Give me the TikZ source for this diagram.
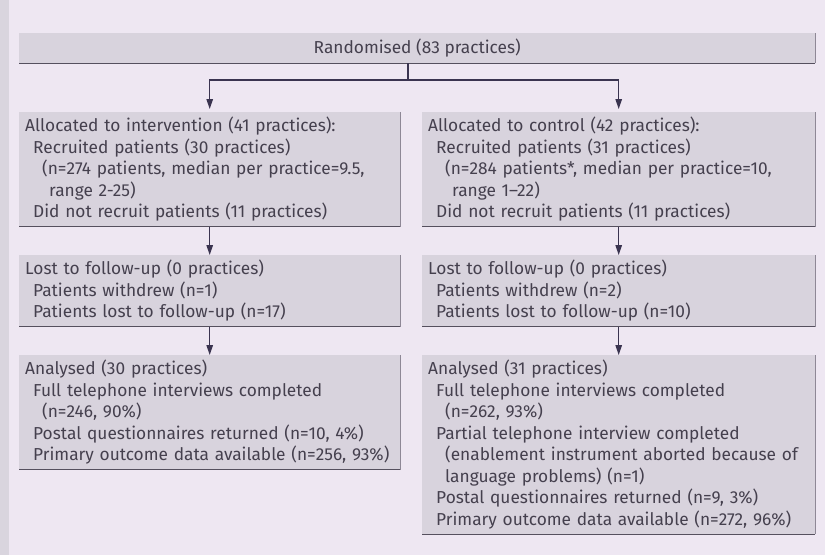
\documentclass[tikz,border=0pt]{standalone}
\usepackage{fontspec}
\setmainfont{Fira Sans}
\usetikzlibrary{arrows.meta,calc,positioning}
\definecolor{paper}{HTML}{EEE7F2}
\definecolor{scanedge}{HTML}{D9D5DE}
\definecolor{boxfill}{HTML}{D8D3DD}
\definecolor{ruledark}{HTML}{55505E}
\definecolor{rulelight}{HTML}{8E8896}
\definecolor{inkgray}{HTML}{45404E}
\definecolor{arrowink}{HTML}{3A3450}

\newcommand{\inA}{\hspace*{8pt}}
\newcommand{\inB}{\hspace*{17pt}}
\newcommand{\inC}{\hspace*{24pt}}

\begin{document}
\begin{tikzpicture}[x=1pt,y=-1pt,
  flowbox/.style={fill=boxfill, text=inkgray, anchor=north west, align=left,
    inner xsep=6pt, inner ysep=5pt, font=\fontsize{17.3}{21.5}\selectfont},
  leftcol/.style={flowbox, text width=369pt},
  rightcol/.style={flowbox, text width=381pt},
  flow/.style={arrowink, line width=1.3pt},
  arr/.style={flow, -{Triangle[length=10pt,width=6.5pt]}}]
  \useasboundingbox (0,0) rectangle (825,555);
  \fill[paper] (0,0) rectangle (825,555);
  \fill[scanedge] (0,0) rectangle (9,555);

  \node[flowbox, align=center, minimum width=796pt, minimum height=30pt] (randomised) at (19,33)
    {Randomised (83 practices)};

  % intervention arm
  \node[leftcol] (allocI) at (19,112)
    {Allocated to intervention (41 practices):\\
     \inA Recruited patients (30 practices)\\
     \inB(n=274 patients, median per practice=9.5,\\
     \inC range 2-25)\\
     \inA Did not recruit patients (11 practices)};
  \node[leftcol] (lostI) at (19,255)
    {Lost to follow-up (0 practices)\\
     \inA Patients withdrew (n=1)\\
     \inA Patients lost to follow-up (n=17)};
  \node[leftcol] (analysedI) at (19,355)
    {Analysed (30 practices)\\
     \inA Full telephone interviews completed\\
     \inB(n=246, 90\%)\\
     \inA Postal questionnaires returned (n=10, 4\%)\\
     \inA Primary outcome data available (n=256, 93\%)};

  % control arm
  \node[rightcol] (allocC) at (422,112)
    {Allocated to control (42 practices):\\
     \inA Recruited patients (31 practices)\\
     \inB(n=284 patients*, median per practice=10,\\
     \inC range 1--22)\\
     \inA Did not recruit patients (11 practices)};
  \node[rightcol] (lostC) at (422,255)
    {Lost to follow-up (0 practices)\\
     \inA Patients withdrew (n=2)\\
     \inA Patients lost to follow-up (n=10)};
  \node[rightcol] (analysedC) at (422,355)
    {Analysed (31 practices)\\
     \inA Full telephone interviews completed\\
     \inB(n=262, 93\%)\\
     \inA Partial telephone interview completed\\
     \inB(enablement instrument aborted because of\\
     \inB language problems) (n=1)\\
     \inA Postal questionnaires returned (n=9, 3\%)\\
     \inA Primary outcome data available (n=272, 96\%)};

  % box edges
  \foreach \b in {randomised,allocI,allocC,lostI,lostC,analysedI,analysedC}{
    \draw[rulelight, line width=0.8pt] (\b.south east) -- (\b.north east);
    \draw[ruledark, line width=1.3pt] (\b.south west) -- (\b.south east);
  }

  % connectors
  \coordinate (split) at (408,80);
  \draw[flow] (randomised.south -| split) -- (split);
  \draw[arr, shorten >=3pt] (split) -| (allocI.north);
  \draw[arr, shorten >=3pt] (split) -| (allocC.north);
  \draw[arr] (allocI) -- (lostI);
  \draw[arr] (allocC) -- (lostC);
  \draw[arr] (lostI) -- (analysedI);
  \draw[arr] (lostC) -- (analysedC);
\end{tikzpicture}
\end{document}
